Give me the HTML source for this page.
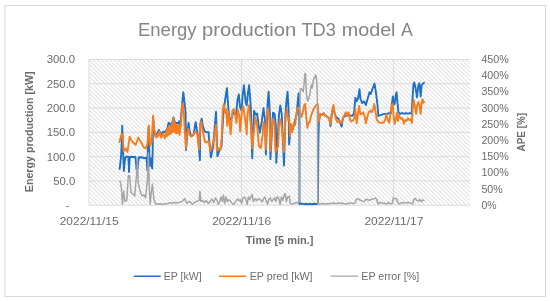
<!DOCTYPE html>
<html><head><meta charset="utf-8"><title>Energy production TD3 model A</title>
<style>
html,body{margin:0;padding:0;background:#fff;}
body{width:550px;height:301px;overflow:hidden;font-family:"Liberation Sans",sans-serif;}
svg{display:block;filter:blur(0.4px);}
text{font-family:"Liberation Sans",sans-serif;}
</style></head><body>
<svg width="550" height="301" viewBox="0 0 550 301">
<defs>
<pattern id="hatch" patternUnits="userSpaceOnUse" width="2.93" height="2.93" patternTransform="translate(0.75,0) rotate(45)">
<rect x="0" y="0" width="2.93" height="0.85" fill="#dcdcdc"/>
</pattern>
<clipPath id="plotclip"><rect x="88" y="58" width="383" height="148"/></clipPath>
</defs>
<rect x="0" y="0" width="550" height="301" fill="#ffffff"/>
<rect x="5" y="5.5" width="540.5" height="291" fill="#ffffff" stroke="#d9d9d9" stroke-width="1"/>
<rect x="89.0" y="59.5" width="381.0" height="145.7" fill="url(#hatch)"/>
<line x1="89.0" y1="59.50" x2="470.0" y2="59.50" stroke="#dbdbdb" stroke-width="1"/>
<line x1="89.0" y1="83.78" x2="470.0" y2="83.78" stroke="#dbdbdb" stroke-width="1"/>
<line x1="89.0" y1="108.07" x2="470.0" y2="108.07" stroke="#dbdbdb" stroke-width="1"/>
<line x1="89.0" y1="132.35" x2="470.0" y2="132.35" stroke="#dbdbdb" stroke-width="1"/>
<line x1="89.0" y1="156.63" x2="470.0" y2="156.63" stroke="#dbdbdb" stroke-width="1"/>
<line x1="89.0" y1="180.92" x2="470.0" y2="180.92" stroke="#dbdbdb" stroke-width="1"/>
<line x1="89.0" y1="205.20" x2="470.0" y2="205.20" stroke="#dbdbdb" stroke-width="1"/>
<line x1="89.0" y1="59.5" x2="89.0" y2="205.2" stroke="#dbdbdb" stroke-width="1"/>
<line x1="241.5" y1="59.5" x2="241.5" y2="205.2" stroke="#dbdbdb" stroke-width="1"/>
<line x1="393.7" y1="59.5" x2="393.7" y2="205.2" stroke="#dbdbdb" stroke-width="1"/>
<g clip-path="url(#plotclip)" fill="none" stroke-linejoin="round" stroke-linecap="round">
<polyline stroke="#1f70c8" stroke-width="1.9" points="119.6,169.0 120.4,163.0 121.2,154.0 121.8,140.0 122.2,125.6 122.7,140.0 123.3,157.5 123.9,171.0 124.6,163.0 125.3,157.5 126.0,156.8 128.3,156.6 128.7,163.0 129.0,172.0 129.4,163.0 129.8,157.0 131.5,156.8 133.5,157.0 135.4,157.0 136.0,163.0 136.6,170.0 137.4,170.0 138.2,163.0 138.7,157.5 140.5,157.2 142.4,157.5 144.1,158.2 146.5,157.8 147.0,165.0 147.3,170.0 147.8,150.0 148.6,127.0 149.2,150.0 149.9,166.0 150.5,158.0 151.3,162.0 152.2,168.5 152.7,150.0 153.0,117.0 154.2,129.9 155.4,135.9 157.2,133.5 159.0,129.9 160.8,134.7 163.2,131.7 164.4,132.3 166.2,130.5 167.4,128.7 168.6,122.8 169.8,123.4 171.0,125.1 172.2,123.4 173.4,117.4 174.6,121.6 175.7,123.4 176.9,122.8 178.1,123.4 179.3,121.3 180.5,126.3 181.4,112.0 183.3,92.3 185.6,112.0 186.0,150.0 187.7,128.7 188.6,122.8 189.5,129.9 190.7,135.9 193.7,134.7 194.9,126.3 195.7,122.2 196.7,128.7 197.9,134.7 199.9,160.2 200.3,124.0 201.7,118.6 202.9,126.3 204.5,131.1 206.3,132.3 208.7,132.3 208.7,135.3 210.9,157.3 213.2,146.3 216.0,111.8 217.4,156.3 219.6,149.9 221.5,146.3 223.3,114.6 225.1,99.9 226.9,88.1 228.4,109.1 229.7,120.0 231.5,118.2 233.3,112.7 236.1,114.6 237.5,99.9 238.8,94.5 240.1,107.3 241.6,110.9 242.5,96.3 243.9,85.3 245.6,101.8 246.7,105.4 248.0,92.6 249.1,85.3 250.7,105.4 252.2,158.2 254.0,110.9 255.8,114.6 257.1,113.6 258.4,123.7 259.8,132.8 261.7,121.9 263.5,108.2 265.0,120.0 265.9,154.5 267.5,105.4 268.6,91.7 269.9,114.6 270.4,159.1 273.0,112.7 274.5,113.6 275.9,125.5 276.3,162.7 279.0,114.6 280.3,105.4 281.8,114.6 284.0,165.5 285.4,114.6 286.4,101.8 287.6,91.7 288.7,112.7 289.1,144.5 290.9,125.5 292.8,129.2 294.6,121.9 296.6,114.6 297.7,101.8 298.6,93.5 299.1,105.4 299.4,135.0 299.5,204.0 302.0,203.6 304.0,204.2 306.0,203.8 308.0,204.2 310.0,203.8 312.0,204.2 314.0,203.8 316.5,204.0 317.9,203.5 318.4,140.0 318.9,121.5 320.2,114.1 322.0,115.1 323.8,113.2 325.6,116.0 327.5,116.9 329.3,118.7 330.6,126.0 331.7,114.1 333.0,107.7 334.8,114.1 336.6,117.8 338.4,118.7 340.3,123.3 341.6,126.6 343.0,117.8 344.8,116.0 348.5,115.4 352.2,115.9 354.0,113.2 355.4,97.6 356.7,101.3 358.0,98.6 359.5,89.1 360.4,98.6 362.2,103.1 364.0,101.3 365.9,105.0 367.7,98.6 369.5,92.2 370.8,94.0 372.3,89.4 374.5,83.6 375.9,92.2 377.4,104.0 378.3,116.0 378.7,115.7 381.4,114.8 384.1,113.9 386.9,113.9 389.6,113.0 391.1,113.0 391.8,104.7 392.9,96.5 393.8,104.7 394.7,103.8 395.7,95.6 396.6,92.3 397.5,102.9 398.4,112.0 399.7,113.9 402.4,113.0 404.3,113.9 406.1,113.0 407.9,113.9 409.7,113.0 411.6,113.9 412.5,99.3 413.4,84.6 414.3,82.4 415.6,88.3 417.0,97.4 418.3,85.5 419.4,83.2 420.7,96.5 421.6,85.5 422.9,83.7 424.0,82.8"/>
<polyline stroke="#f57c1f" stroke-width="1.9" points="119.5,142.0 121.3,134.7 122.4,133.8 123.7,151.2 125.5,148.4 127.4,152.1 129.7,136.6 131.9,141.1 133.8,143.0 135.6,144.8 138.3,137.5 140.2,141.1 142.0,143.9 143.8,147.5 145.6,148.4 147.5,143.9 148.8,125.6 150.2,145.7 151.7,142.0 153.1,115.5 154.2,129.9 155.4,135.9 156.4,137.5 157.4,134.2 158.3,136.0 159.4,131.2 160.3,134.0 161.2,137.8 162.2,135.5 163.0,133.6 164.0,136.0 164.8,138.4 165.6,135.0 166.3,130.9 167.0,136.2 167.7,128.5 168.4,134.9 169.1,126.3 169.8,134.2 170.5,126.4 171.2,133.5 171.9,123.9 172.6,132.1 173.3,118.3 174.0,131.4 174.7,121.6 175.4,132.9 176.1,124.6 176.8,133.2 177.5,125.4 178.2,132.9 178.9,124.8 179.6,135.0 180.3,127.0 180.5,128.7 181.4,118.0 182.3,104.8 182.9,103.6 183.8,112.0 184.7,129.9 185.9,148.4 187.1,133.5 188.3,128.7 189.5,134.7 191.9,136.5 194.9,132.3 196.1,131.7 197.3,134.7 199.2,149.4 200.3,124.0 201.3,121.6 202.7,131.1 203.9,136.5 205.0,141.7 206.8,142.6 208.7,140.8 210.5,150.9 212.3,146.3 214.1,137.1 216.0,124.6 216.9,150.9 218.7,148.1 220.5,149.9 221.8,137.1 222.7,110.9 223.8,104.5 225.1,112.7 226.0,109.1 227.3,125.9 228.4,111.8 229.7,123.7 230.6,134.4 232.4,110.9 233.9,109.1 235.2,114.6 236.4,122.8 237.9,110.0 239.2,115.5 240.2,131.4 242.1,109.1 243.4,106.3 244.9,118.2 246.1,127.4 246.7,134.4 247.4,114.6 248.9,105.4 250.3,120.0 251.6,131.0 252.2,148.1 255.3,117.3 257.1,125.5 258.9,146.3 260.8,148.1 262.6,135.3 263.5,121.9 265.0,131.0 265.9,149.0 266.6,118.2 268.1,108.2 269.5,121.9 270.4,150.9 272.6,119.1 274.5,123.7 275.4,151.8 278.1,146.3 279.0,125.5 280.3,119.1 281.8,127.4 284.0,151.8 285.4,120.0 286.9,109.1 288.2,120.0 289.2,118.0 290.0,136.0 290.9,124.0 292.2,132.0 293.7,123.3 295.1,125.1 296.4,114.1 297.5,107.7 299.5,108.7 300.6,114.1 301.5,116.9 302.8,112.3 304.3,105.0 305.2,104.0 306.5,119.6 307.4,127.9 308.3,123.3 309.7,122.4 311.0,116.0 312.3,112.3 313.8,108.7 315.6,105.9 317.8,104.0 318.3,114.1 318.9,121.5 320.2,114.1 322.0,115.1 323.8,113.2 325.6,116.0 327.5,116.9 329.3,118.7 330.6,124.2 331.7,114.1 333.0,106.8 333.5,105.0 334.8,114.1 336.1,119.6 337.5,122.4 339.0,120.5 340.3,122.4 341.6,123.3 343.0,117.8 344.5,115.1 345.8,112.3 347.0,116.0 348.5,112.3 350.0,119.6 351.2,121.5 353.1,120.5 354.4,117.8 355.4,109.6 356.7,123.3 358.0,114.1 359.1,106.0 360.4,114.1 361.7,114.1 363.1,112.3 364.6,116.0 365.9,123.3 367.1,117.8 368.6,112.3 370.4,110.5 371.9,112.3 373.2,108.7 374.3,104.0 375.6,112.3 376.8,119.6 378.7,122.4 380.5,122.9 383.2,122.9 385.1,120.1 386.3,114.6 387.8,120.1 389.3,122.9 390.5,112.8 391.8,105.5 392.7,103.7 393.6,116.5 394.7,123.8 396.0,118.3 396.9,112.8 397.9,121.0 398.8,115.5 400.2,117.4 401.5,119.2 402.4,118.3 403.9,123.8 405.2,120.1 406.4,121.0 407.9,118.3 409.4,120.1 410.6,119.2 411.9,122.9 412.8,106.6 413.8,100.2 414.9,106.6 416.1,113.9 417.4,104.7 418.5,102.0 419.4,104.7 420.7,113.9 421.6,102.9 422.5,99.3 423.4,102.9 424.0,102.0"/>
<polyline stroke="#a5a5a5" stroke-width="1.5" points="120.1,181.3 121.3,186.7 122.4,204.1 123.7,191.3 125.0,201.4 126.8,200.4 128.3,175.8 129.7,175.8 131.0,192.2 132.9,194.0 134.7,195.9 136.5,175.8 137.4,159.3 138.3,183.1 140.2,191.3 142.0,195.9 143.8,195.0 145.6,197.7 147.5,179.4 148.4,152.9 149.3,188.6 150.2,204.1 151.1,194.0 152.4,184.0 153.9,199.5 155.7,204.1 159.4,203.7 162.1,204.3 164.8,203.9 167.6,203.6 170.3,202.8 172.2,203.4 174.0,202.3 176.7,203.0 179.5,202.3 182.2,201.4 184.6,198.6 186.8,203.2 189.5,201.4 192.3,204.1 194.5,202.5 196.8,201.4 199.2,200.4 199.9,191.3 200.9,201.4 202.7,200.6 204.6,202.5 206.4,200.6 208.2,203.4 210.1,201.6 211.9,198.8 213.7,202.5 215.5,197.9 216.8,199.7 218.3,204.3 219.7,201.6 221.0,197.0 222.3,201.6 223.4,195.2 224.7,203.4 226.0,197.0 227.4,201.6 228.9,199.7 230.2,200.6 232.0,203.4 233.8,204.3 235.6,201.6 237.5,198.8 238.8,200.6 240.2,199.7 241.7,203.4 243.0,197.9 244.2,197.0 245.7,198.8 247.2,204.3 248.4,197.0 249.7,199.7 251.2,196.1 252.1,194.6 253.4,201.6 254.8,198.8 256.7,200.6 258.5,198.8 260.3,199.7 262.2,201.6 263.6,198.8 264.9,197.0 266.2,200.6 267.6,204.3 269.1,198.8 270.4,197.9 271.7,201.6 273.1,199.7 274.6,197.9 275.9,201.6 277.1,197.0 278.6,197.9 280.1,204.3 281.4,197.0 282.6,200.6 284.1,195.2 285.2,193.3 286.3,201.6 287.8,197.0 289.2,196.1 290.5,203.4 292.3,204.3 294.1,203.4 296.0,202.5 297.8,203.4 299.3,201.6 299.7,170.0 300.1,94.0 300.5,88.5 301.5,89.0 302.5,90.5 303.2,92.0 304.0,85.0 304.8,74.0 305.5,73.5 306.0,85.0 306.5,95.0 307.7,101.3 308.8,98.6 310.0,94.0 310.8,87.0 311.5,85.0 312.2,88.0 313.0,82.0 314.0,78.0 314.8,77.5 315.5,75.0 316.2,75.5 316.8,83.0 317.3,95.0 317.8,203.5 319.3,204.0 322.9,203.4 326.6,204.0 330.2,203.4 333.0,202.9 335.7,203.4 339.4,202.9 343.0,203.4 346.7,204.0 350.3,202.9 354.0,203.4 355.4,202.9 356.2,198.9 358.6,198.9 360.4,200.3 362.2,201.1 364.0,201.6 365.9,199.2 367.7,199.8 369.5,200.3 371.4,199.2 373.2,198.9 375.6,198.1 376.8,199.8 378.1,204.0 379.6,202.4 382.3,203.0 385.1,203.5 386.9,203.9 388.7,202.4 390.5,203.9 392.4,203.0 393.3,198.0 394.7,198.4 396.6,198.8 397.9,203.0 399.7,203.9 402.4,202.4 405.2,203.0 407.9,202.4 410.6,203.1 412.8,203.9 413.8,199.3 415.2,198.4 416.7,200.2 418.5,201.1 419.8,199.3 421.1,201.7 422.5,199.9 424.0,200.2"/>
</g>
<text x="138.0" y="36.0" font-size="18.6" fill="#858585" textLength="58.6" lengthAdjust="spacingAndGlyphs">Energy</text>
<text x="202.0" y="36.0" font-size="18.6" fill="#858585" textLength="94.3" lengthAdjust="spacingAndGlyphs">production</text>
<text x="301.4" y="36.0" font-size="18.6" fill="#858585" textLength="34.4" lengthAdjust="spacingAndGlyphs">TD3</text>
<text x="341.8" y="36.0" font-size="18.6" fill="#858585" textLength="53.7" lengthAdjust="spacingAndGlyphs">model</text>
<text x="401.0" y="36.0" font-size="18.6" fill="#858585" textLength="11.8" lengthAdjust="spacingAndGlyphs">A</text>
<text x="75.2" y="63.40" font-size="10.5" fill="#6c6c6c" text-anchor="end" textLength="28.5" lengthAdjust="spacingAndGlyphs">300.0</text>
<text x="75.2" y="87.68" font-size="10.5" fill="#6c6c6c" text-anchor="end" textLength="28.5" lengthAdjust="spacingAndGlyphs">250.0</text>
<text x="75.2" y="111.97" font-size="10.5" fill="#6c6c6c" text-anchor="end" textLength="28.5" lengthAdjust="spacingAndGlyphs">200.0</text>
<text x="75.2" y="136.25" font-size="10.5" fill="#6c6c6c" text-anchor="end" textLength="28.5" lengthAdjust="spacingAndGlyphs">150.0</text>
<text x="75.2" y="160.53" font-size="10.5" fill="#6c6c6c" text-anchor="end" textLength="28.5" lengthAdjust="spacingAndGlyphs">100.0</text>
<text x="75.2" y="184.82" font-size="10.5" fill="#6c6c6c" text-anchor="end" textLength="22.0" lengthAdjust="spacingAndGlyphs">50.0</text>
<text x="69.3" y="208.60" font-size="10.5" fill="#6c6c6c" text-anchor="end">-</text>
<text x="481.4" y="63.00" font-size="10.5" fill="#6c6c6c" textLength="27.3" lengthAdjust="spacingAndGlyphs">450%</text>
<text x="481.4" y="79.19" font-size="10.5" fill="#6c6c6c" textLength="27.3" lengthAdjust="spacingAndGlyphs">400%</text>
<text x="481.4" y="95.38" font-size="10.5" fill="#6c6c6c" textLength="27.3" lengthAdjust="spacingAndGlyphs">350%</text>
<text x="481.4" y="111.57" font-size="10.5" fill="#6c6c6c" textLength="27.3" lengthAdjust="spacingAndGlyphs">300%</text>
<text x="481.4" y="127.76" font-size="10.5" fill="#6c6c6c" textLength="27.3" lengthAdjust="spacingAndGlyphs">250%</text>
<text x="481.4" y="143.94" font-size="10.5" fill="#6c6c6c" textLength="27.3" lengthAdjust="spacingAndGlyphs">200%</text>
<text x="481.4" y="160.13" font-size="10.5" fill="#6c6c6c" textLength="27.3" lengthAdjust="spacingAndGlyphs">150%</text>
<text x="481.4" y="176.32" font-size="10.5" fill="#6c6c6c" textLength="27.3" lengthAdjust="spacingAndGlyphs">100%</text>
<text x="481.4" y="192.51" font-size="10.5" fill="#6c6c6c" textLength="21.2" lengthAdjust="spacingAndGlyphs">50%</text>
<text x="481.4" y="208.70" font-size="10.5" fill="#6c6c6c" textLength="15.1" lengthAdjust="spacingAndGlyphs">0%</text>
<text x="89.2" y="225.1" font-size="10.5" fill="#6c6c6c" text-anchor="middle" textLength="59" lengthAdjust="spacingAndGlyphs">2022/11/15</text>
<text x="241.7" y="225.1" font-size="10.5" fill="#6c6c6c" text-anchor="middle" textLength="59" lengthAdjust="spacingAndGlyphs">2022/11/16</text>
<text x="393.9" y="225.1" font-size="10.5" fill="#6c6c6c" text-anchor="middle" textLength="59" lengthAdjust="spacingAndGlyphs">2022/11/17</text>
<text x="279.7" y="243.9" font-size="10.5" font-weight="bold" fill="#6c6c6c" text-anchor="middle" textLength="67.7" lengthAdjust="spacingAndGlyphs">Time [5 min.]</text>
<text transform="translate(33.1,131.8) rotate(-90)" font-size="10.5" font-weight="bold" fill="#6c6c6c" text-anchor="middle" textLength="120.8" lengthAdjust="spacingAndGlyphs">Energy production [kW]</text>
<text transform="translate(525.2,132.2) rotate(-90)" font-size="10.5" font-weight="bold" fill="#6c6c6c" text-anchor="middle" textLength="38.4" lengthAdjust="spacingAndGlyphs">APE [%]</text>
<line x1="134.3" y1="276.2" x2="160.2" y2="276.2" stroke="#1f70c8" stroke-width="1.5" stroke-linecap="round"/>
<text x="163.8" y="279.9" font-size="10.6" fill="#6c6c6c" textLength="37.8" lengthAdjust="spacingAndGlyphs">EP [kW]</text>
<line x1="219.6" y1="276.2" x2="245.6" y2="276.2" stroke="#f57c1f" stroke-width="1.5" stroke-linecap="round"/>
<text x="249.7" y="279.9" font-size="10.6" fill="#6c6c6c" textLength="62.9" lengthAdjust="spacingAndGlyphs">EP pred [kW]</text>
<line x1="331.09999999999997" y1="276.2" x2="357.6" y2="276.2" stroke="#a5a5a5" stroke-width="1.3" stroke-linecap="round"/>
<text x="361.3" y="279.9" font-size="10.6" fill="#6c6c6c" textLength="57.9" lengthAdjust="spacingAndGlyphs">EP error [%]</text>
</svg>
</body></html>
